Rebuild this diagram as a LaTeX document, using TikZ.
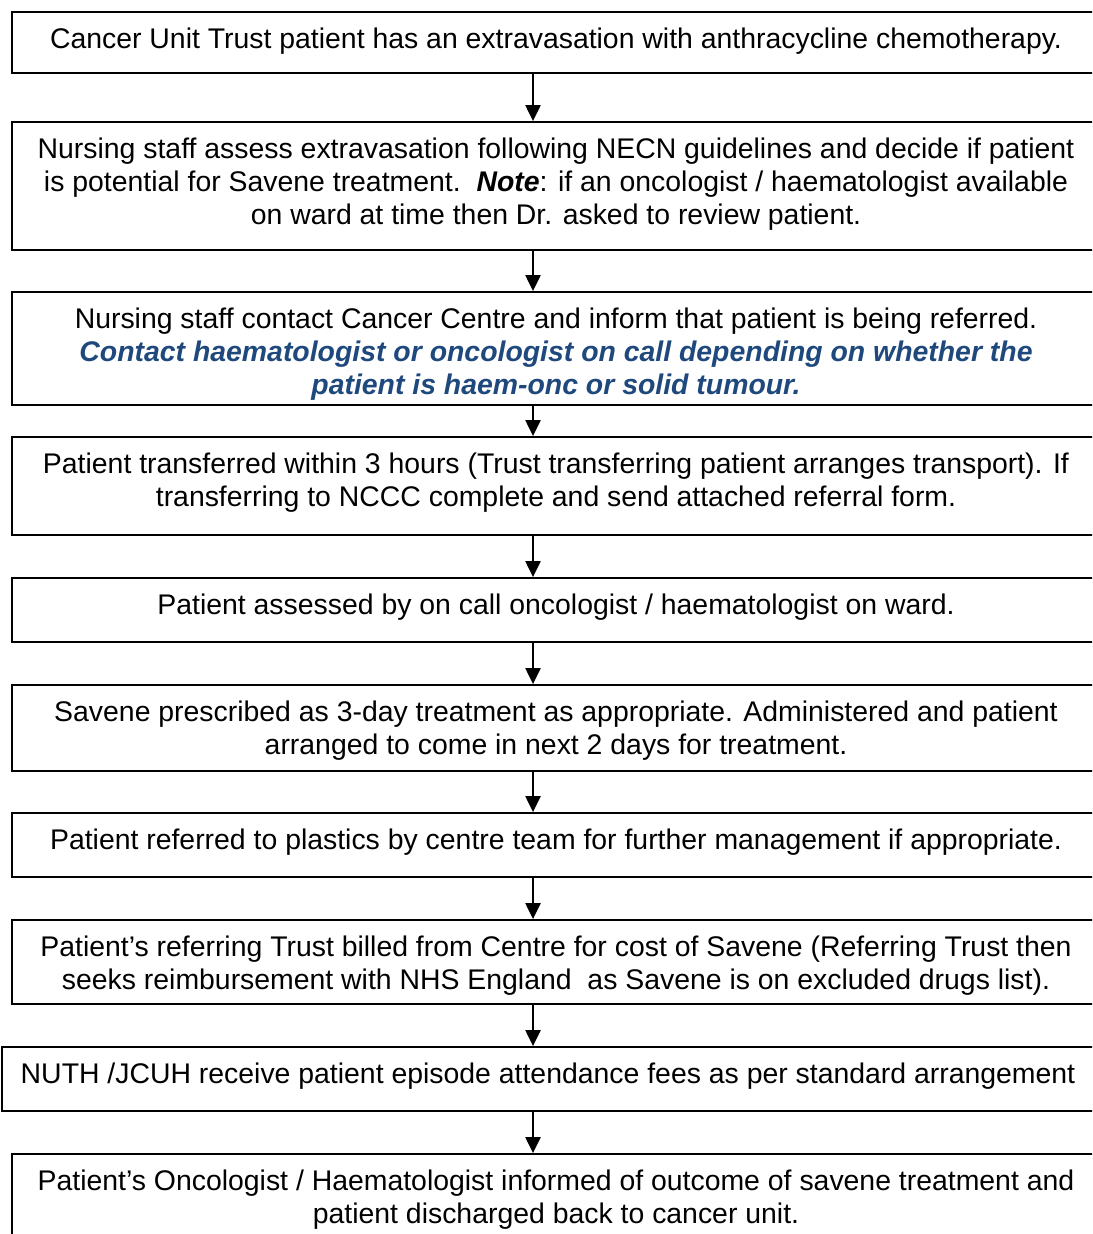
\documentclass[tikz,border=0pt]{standalone}
\usepackage{fontspec}
\setmainfont{Liberation Sans}
\usepackage{xcolor}
\usepackage{tikz}
\usetikzlibrary{positioning,arrows.meta}

\definecolor{calloutblue}{HTML}{1F497D}
\tikzset{
  stepbox/.style={draw, line width=0.9pt, minimum width=544pt, inner sep=0pt},
  steptext/.style={anchor=north, align=center, inner sep=0pt,
    font=\fontsize{14.2}{16.5}\selectfont},
  flowarrow/.style={line width=1.1pt, -{Triangle[length=8pt,width=7.5pt]}}
}

\begin{document}
\begin{tikzpicture}[x=0.5pt,y=-0.5pt]
\useasboundingbox (0,0) rectangle (1092,1234);
\clip (0,0) rectangle (1092,1234);
\coordinate (axis) at (533,0);
% step boxes
\node[stepbox, minimum height=30.5pt] (s1) at (556,42.5) {};
\node[stepbox, minimum height=64pt] (s2) at (556,186) {};
\node[stepbox, minimum height=56.5pt] (s3) at (556,348.5) {};
\node[stepbox, minimum height=49pt] (s4) at (556,486) {};
\node[stepbox, minimum height=32pt] (s5) at (556,610) {};
\node[stepbox, minimum height=43pt] (s6) at (556,728) {};
\node[stepbox, minimum height=32pt] (s7) at (556,845) {};
\node[stepbox, minimum height=42pt] (s8) at (556,962) {};
\node[stepbox, minimum height=32pt, minimum width=546pt] (s9) at (548,1079) {};
\node[stepbox, minimum height=48pt] (s10) at (556,1202) {};
% texts
\node[steptext] (t1) at ([yshift=-8pt]s1.north) {Cancer Unit Trust patient has an extravasation with anthracycline chemotherapy.};
\node[steptext] (t2) at ([yshift=-8pt]s2.north) {Nursing staff assess extravasation following NECN guidelines and decide if patient\\
  is potential for Savene treatment.\ \ \textbf{\textit{Note}}: if an oncologist / haematologist available\\
  on ward at time then Dr. asked to review patient.};
\node[steptext] (t3) at ([yshift=-8pt]s3.north) {Nursing staff contact Cancer Centre and inform that patient is being referred.\\
  \textcolor{calloutblue}{\textbf{\textit{Contact haematologist or oncologist on call depending on whether the}}}\\
  \textcolor{calloutblue}{\textbf{\textit{patient is haem-onc or solid tumour.}}}};
\node[steptext] (t4) at ([yshift=-8pt]s4.north) {Patient transferred within 3 hours (Trust transferring patient arranges transport). If\\
  transferring to NCCC complete and send attached referral form.};
\node[steptext] (t5) at ([yshift=-8pt]s5.north) {Patient assessed by on call oncologist / haematologist on ward.};
\node[steptext] (t6) at ([yshift=-8pt]s6.north) {Savene prescribed as 3-day treatment as appropriate. Administered and patient\\
  arranged to come in next 2 days for treatment.};
\node[steptext] (t7) at ([yshift=-8pt]s7.north) {Patient referred to plastics by centre team for further management if appropriate.};
\node[steptext] (t8) at ([yshift=-8pt]s8.north) {Patient’s referring Trust billed from Centre for cost of Savene (Referring Trust then\\
  seeks reimbursement with NHS England\ \ as Savene is on excluded drugs list).};
\node[steptext] (t9) at ([yshift=-8pt]s9.north) {NUTH /JCUH receive patient episode attendance fees as per standard arrangement};
\node[steptext] (t10) at ([yshift=-8pt]s10.north) {Patient’s Oncologist / Haematologist informed of outcome of savene treatment and\\
  patient discharged back to cancer unit.};
% arrows
\draw[flowarrow] (s1.south -| axis) -- (s2.north -| axis);
\draw[flowarrow] (s2.south -| axis) -- (s3.north -| axis);
\draw[flowarrow] (s3.south -| axis) -- (s4.north -| axis);
\draw[flowarrow] (s4.south -| axis) -- (s5.north -| axis);
\draw[flowarrow] (s5.south -| axis) -- (s6.north -| axis);
\draw[flowarrow] (s6.south -| axis) -- (s7.north -| axis);
\draw[flowarrow] (s7.south -| axis) -- (s8.north -| axis);
\draw[flowarrow] (s8.south -| axis) -- (s9.north -| axis);
\draw[flowarrow] (s9.south -| axis) -- (s10.north -| axis);
\end{tikzpicture}
\end{document}
